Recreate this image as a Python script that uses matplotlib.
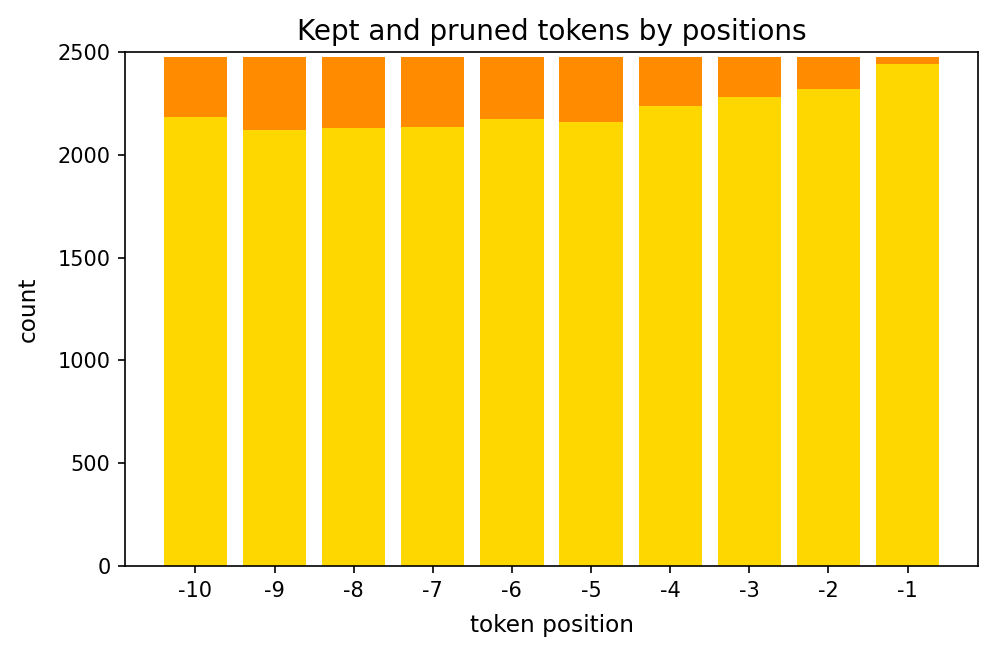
import matplotlib
matplotlib.use("Agg")
import matplotlib.pyplot as plt

positions = [-10, -9, -8, -7, -6, -5, -4, -3, -2, -1]
total = [2478, 2478, 2478, 2478, 2478, 2478, 2478, 2478, 2478, 2478]
kept = [2183, 2123, 2128, 2134, 2173, 2159, 2237, 2279, 2320, 2443]
pruned = [t - k for t, k in zip(total, kept)]
labels = [str(p) for p in positions]

fig = plt.figure(figsize=(995 / 150, 654 / 150), dpi=150)
ax = fig.add_axes([125 / 995, 1 - 566 / 654, (978 - 125) / 995, (566 - 52) / 654])
ax.bar(labels, kept, color="gold")
ax.bar(labels, pruned, bottom=kept, color="darkorange")
ax.set_ylim(0, 2500)
ax.set_title("Kept and pruned tokens by positions", fontsize=13.4)
ax.set_xlabel("token position", fontsize=11.2, labelpad=6.5)
ax.set_ylabel("count", fontsize=11.2, labelpad=8.5)
fig.savefig("out.png", dpi=150)
